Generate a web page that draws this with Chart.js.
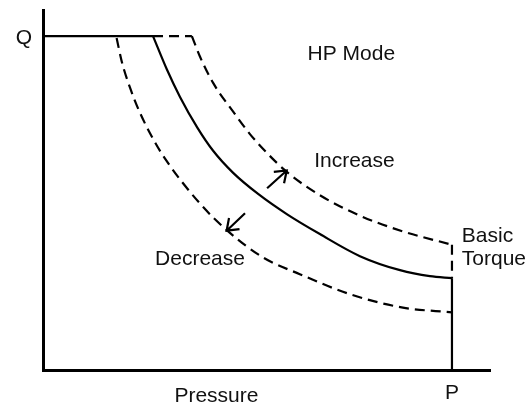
<!DOCTYPE html>
<html>
<head>
<meta charset="utf-8">
<style>
  html, body { margin: 0; padding: 0; background: #fff; }
  #wrap { width: 531px; height: 408px; }
</style>
<script src="https://cdn.jsdelivr.net/npm/chart.js@4/dist/chart.umd.min.js"></script>
</head>
<body>
<div id="wrap"><canvas id="c" width="531" height="408"></canvas></div>
<script>
// Pump characteristic in HP mode: pressure (P) against flow (Q), both in % of rated value.

// Maximum-flow plateau (solid) and its extension for the increased setting (dashed)
const maxFlowP = [0, 26.9];
const maxFlowQ = [100, 100];
const increaseFlatP = [26.9, 36.4];
const increaseFlatQ = [100, 100];

// Constant-power curves
const basicP = [26.9, 30.3, 33.5, 37.7, 41.6, 46.5, 52.6, 59.7, 67.7, 77.5, 87.3, 94.6, 100];
const basicQ = [100, 90.0, 81.8, 72.7, 65.7, 59.1, 52.8, 46.7, 40.8, 34.2, 30.0, 28.2, 27.6];
const increaseP = [36.4, 38.4, 41.6, 46.5, 50.6, 54.8, 59.7, 67.7, 77.5, 88.0, 100];
const increaseQ = [100, 93.8, 86.0, 77.4, 70.7, 65.0, 59.3, 52.4, 46.3, 41.6, 37.6];
const decreaseP = [18.0, 19.3, 21.3, 23.7, 26.9, 29.8, 38.4, 45.0, 53.8, 62.8, 75.1, 88.0, 100];
const decreaseQ = [99.4, 92.2, 84.5, 77.1, 69.3, 63.4, 49.9, 41.9, 33.8, 28.8, 22.8, 18.8, 17.4];

// Relief at maximum pressure
const reliefP = [100, 100];
const reliefQ = [27.6, 0];
const reliefIncP = [100, 100];
const reliefIncQ = [37.6, 27.6];

// Shift arrows between the curves: start and tip (P, Q)
const arrowStart = [[54.8, 54.5], [49.4, 47.0]];
const arrowTip = [[59.6, 59.8], [44.9, 41.8]];

// Axis labels
const xTickLabel = 'P';
const yTickLabel = 'Q';
const xTitle = 'Pressure';

const pts = (xs, ys) => xs.map((x, i) => ({ x: x, y: ys[i] }));

const FONT = "21px 'Liberation Sans', Arial, sans-serif";
const INK = '#111';

function series(xs, ys, dashed, smooth) {
  return {
    data: pts(xs, ys),
    showLine: true,
    borderColor: '#000',
    borderWidth: 2.2,
    borderDash: dashed ? [10, 6] : [],
    pointRadius: 0,
    pointHoverRadius: 0,
    fill: false,
    cubicInterpolationMode: smooth ? 'monotone' : 'default',
    tension: 0,
    clip: false
  };
}

// Texts placed at (P, Q) anchors
const notes = [
  { text: 'HP Mode', p: 75.4, q: 92.8, align: 'center' },
  { text: 'Increase', p: 66.3, q: 60.8, align: 'left' },
  { text: 'Decrease', p: 27.4, q: 31.5, align: 'left' },
  { text: 'Basic', p: 102.4, q: 38.4, align: 'left' },
  { text: 'Torque', p: 102.4, q: 31.5, align: 'left' }
];

const decorations = {
  id: 'decorations',
  afterDatasetsDraw(chart) {
    const { ctx, scales: { x, y }, chartArea } = chart;
    ctx.save();
    // arrows
    ctx.strokeStyle = '#000';
    ctx.lineWidth = 2.2;
    ctx.lineCap = 'butt';
    ctx.lineJoin = 'miter';
    arrowStart.forEach((s, i) => {
      const t = arrowTip[i];
      const x0 = x.getPixelForValue(s[0]), y0 = y.getPixelForValue(s[1]);
      const x1 = x.getPixelForValue(t[0]), y1 = y.getPixelForValue(t[1]);
      const ang = Math.atan2(y1 - y0, x1 - x0);
      const len = 13, spread = Math.PI / 5;
      ctx.beginPath();
      ctx.moveTo(x0, y0);
      ctx.lineTo(x1, y1);
      ctx.moveTo(x1 - len * Math.cos(ang - spread), y1 - len * Math.sin(ang - spread));
      ctx.lineTo(x1, y1);
      ctx.lineTo(x1 - len * Math.cos(ang + spread), y1 - len * Math.sin(ang + spread));
      ctx.stroke();
    });
    // texts
    ctx.fillStyle = INK;
    ctx.font = FONT;
    ctx.textBaseline = 'alphabetic';
    notes.forEach(n => {
      ctx.textAlign = n.align;
      ctx.fillText(n.text, x.getPixelForValue(n.p), y.getPixelForValue(n.q));
    });
    // axis labels
    ctx.textAlign = 'center';
    ctx.fillText(xTickLabel, x.getPixelForValue(100), chartArea.bottom + 28.5);
    ctx.fillText(xTitle, x.getPixelForValue(42.4), chartArea.bottom + 31.5);
    ctx.textAlign = 'right';
    ctx.fillText(yTickLabel, chartArea.left - 11, y.getPixelForValue(100) + 8);
    ctx.restore();
  }
};

new Chart(document.getElementById('c'), {
  type: 'scatter',
  data: {
    datasets: [
      series(maxFlowP, maxFlowQ, false, false),
      series(increaseFlatP, increaseFlatQ, true, false),
      series(basicP, basicQ, false, true),
      series(increaseP, increaseQ, true, true),
      series(decreaseP, decreaseQ, true, true),
      series(reliefP, reliefQ, false, false),
      series(reliefIncP, reliefIncQ, true, false)
    ]
  },
  options: {
    responsive: false,
    animation: false,
    events: [],
    layout: { padding: { left: 43, top: 10, right: 41, bottom: 37.5 } },
    plugins: { legend: { display: false }, tooltip: { enabled: false } },
    scales: {
      x: {
        type: 'linear', min: 0, max: 109.3,
        grid: { display: false, drawTicks: false },
        ticks: { display: false },
        border: { display: true, color: '#000', width: 3 }
      },
      y: {
        type: 'linear', min: 0, max: 107.8,
        grid: { display: false, drawTicks: false },
        ticks: { display: false },
        border: { display: true, color: '#000', width: 3 }
      }
    }
  },
  plugins: [decorations]
});
</script>
</body>
</html>
